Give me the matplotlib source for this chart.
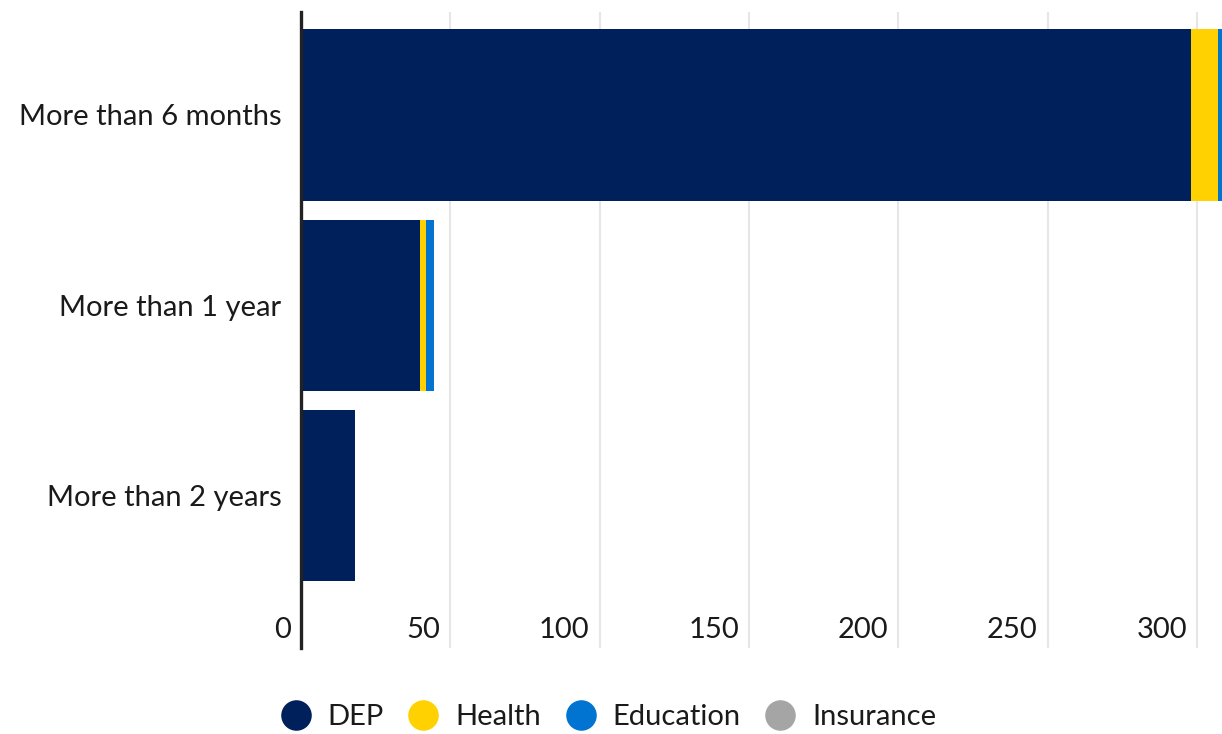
import matplotlib.pyplot as plt
import matplotlib.transforms as mtransforms
from matplotlib.lines import Line2D

plt.rcParams['font.family'] = ['Lato', 'DejaVu Sans']

# data
categories = ['More than 6 months', 'More than 1 year', 'More than 2 years']
dep = [298, 40, 18]
health = [9, 2, 0]
education = [2, 2.5, 0]
insurance = [0, 0, 0]

series = [('DEP', dep, '#00205B'),
          ('Health', health, '#FFD100'),
          ('Education', education, '#0074D0'),
          ('Insurance', insurance, '#A5A5A5')]

fig = plt.figure(figsize=(12.22, 7.34), dpi=100)
ax = fig.add_axes([301 / 1222, 1 - 648 / 734, 1 - 301 / 1222, 636 / 734])

y = list(range(len(categories)))
left = [0] * len(categories)
for name, vals, color in series:
    ax.barh(y, vals, left=left, height=0.9, color=color, label=name, zorder=2)
    left = [l + v for l, v in zip(left, vals)]

ax.set_xlim(0, 308.3)
ax.set_ylim(2.805, -0.542)
ax.set_yticks(y)
ax.set_yticklabels(categories, fontsize=21, color='#1a1a1a')
ax.tick_params(axis='y', length=0, pad=14)

ax.set_xticks([0, 50, 100, 150, 200, 250, 300])
ax.tick_params(axis='x', length=0, pad=-22, labelsize=21, labelcolor='#1a1a1a')
offset = mtransforms.ScaledTranslation(-10 / 100, 0, fig.dpi_scale_trans)
for lab in ax.get_xticklabels():
    lab.set_horizontalalignment('right')
    lab.set_transform(lab.get_transform() + offset)

ax.grid(axis='x', color='#e6e6e6', linewidth=1.5, zorder=0)
ax.set_axisbelow(True)
for s in ['top', 'right', 'bottom']:
    ax.spines[s].set_visible(False)
ax.spines['left'].set_color('#222222')
ax.spines['left'].set_linewidth(2.4)
ax.spines['left'].set_zorder(3)

handles = [Line2D([0], [0], marker='o', color='w', markerfacecolor=c, markersize=23, label=n)
           for n, _, c in series]
fig.legend(handles=handles, loc='lower center', bbox_to_anchor=(0.497, -0.03), ncol=4,
           frameon=False, fontsize=21, handletextpad=0.5, columnspacing=0.75,
           handlelength=1.2, labelcolor='#1a1a1a')

fig.savefig('out.png', dpi=100)
